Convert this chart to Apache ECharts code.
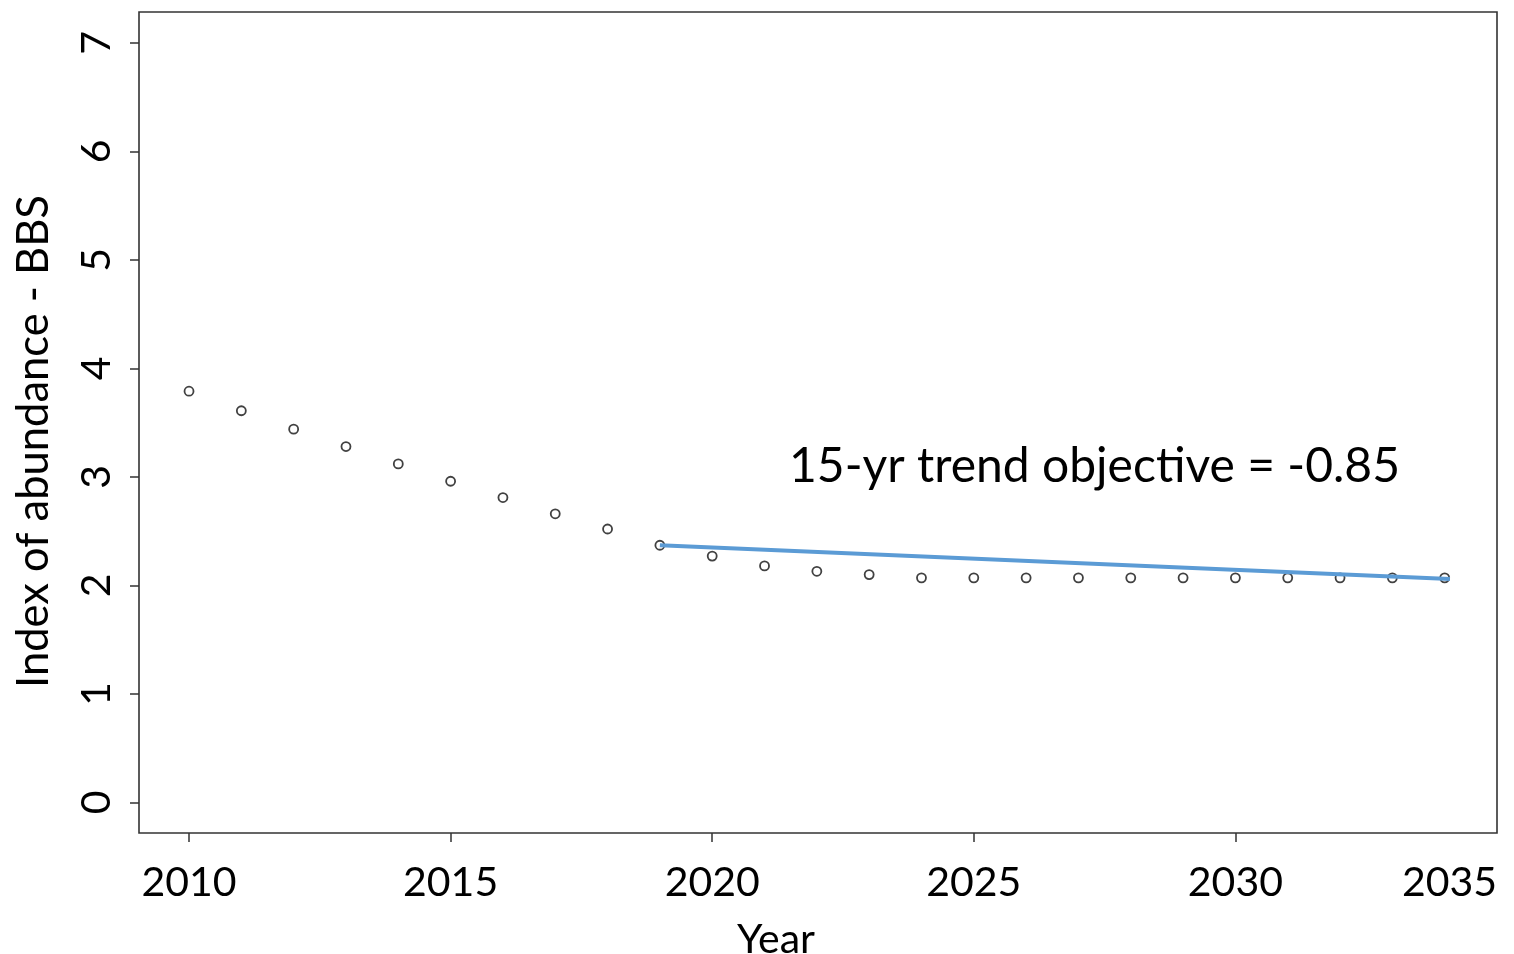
<!DOCTYPE html>
<html>
<head>
<meta charset="utf-8">
<script src="https://cdn.jsdelivr.net/npm/echarts@6/dist/echarts.min.js"></script>
<style>
  html, body { margin: 0; padding: 0; background: #fff; }
  #chart { width: 1514px; height: 954px; }
</style>
</head>
<body>
<div id="chart"></div>
<script>
// ---- data ----
const years = [2010, 2011, 2012, 2013, 2014, 2015, 2016, 2017, 2018, 2019, 2020, 2021,
  2022, 2023, 2024, 2025, 2026, 2027, 2028, 2029, 2030, 2031, 2032, 2033, 2034];
const abundance = [3.79, 3.61, 3.44, 3.28, 3.12, 2.96, 2.81, 2.66, 2.52, 2.37, 2.27, 2.18,
  2.13, 2.10, 2.07, 2.07, 2.07, 2.07, 2.07, 2.07, 2.07, 2.07, 2.07, 2.07, 2.07];
const trendYears = [2019, 2034.1];
const trendValues = [2.37, 2.06];
const xTickLabels = [2010, 2015, 2020, 2025, 2030, 2035];
const xTickMarks = [2010, 2015, 2020, 2025, 2030];
const yTickLabels = [0, 1, 2, 3, 4, 5, 6, 7];
const annotationText = '15-yr trend objective = -0.85';
const xTitle = 'Year';
const yTitle = 'Index of abundance - BBS';

const FONT = 'Lato';
const chart = echarts.init(document.getElementById('chart'), null, { renderer: 'canvas' });

const option = {
  animation: false,
  backgroundColor: '#fff',
  grid: {
    left: 139, right: 17, top: 12, bottom: 121,
    containLabel: false,
    outerBoundsMode: 'none',
    show: true, borderColor: '#333', borderWidth: 1.6, backgroundColor: 'transparent'
  },
  xAxis: {
    type: 'value',
    min: 2009.044,
    max: 2035,
    splitLine: { show: false },
    axisLine: { show: false, onZero: false },
    axisTick: { show: true, length: 9, customValues: xTickMarks, lineStyle: { color: '#333', width: 1.5 } },
    axisLabel: {
      customValues: xTickLabels,
      margin: 29,
      fontFamily: FONT, fontSize: 41, color: '#000',
      alignMaxLabel: 'right',
      formatter: v => String(v)
    },
    name: xTitle,
    nameLocation: 'middle',
    nameGap: 86,
    nameTextStyle: { fontFamily: FONT, fontSize: 41, color: '#000', padding: [0, 84, 0, 0] }
  },
  yAxis: {
    type: 'value',
    min: -0.282,
    max: 7.285,
    splitLine: { show: false },
    axisLine: { show: false, onZero: false },
    axisTick: { show: true, length: 9, customValues: yTickLabels, lineStyle: { color: '#333', width: 1.5 } },
    axisLabel: {
      customValues: yTickLabels,
      rotate: 90,
      margin: 22,
      fontFamily: FONT, fontSize: 41, color: '#000',
      formatter: v => String(v)
    },
    name: yTitle,
    nameLocation: 'middle',
    nameGap: 83,
    nameRotate: 90,
    nameTextStyle: { fontFamily: FONT, fontSize: 43.5, color: '#000', padding: [0, 38, 0, 0] }
  },
  series: [
    {
      type: 'scatter',
      data: years.map((y, i) => [y, abundance[i]]),
      symbol: 'circle',
      symbolSize: 9,
      itemStyle: { color: '#fff', borderColor: '#111', borderWidth: 1.8 },
      z: 2
    },
    {
      type: 'line',
      data: trendYears.map((y, i) => [y, trendValues[i]]),
      showSymbol: false,
      symbol: 'none',
      lineStyle: { color: '#5b9bd5', width: 4 },
      z: 3
    }
  ],
  graphic: [
    {
      type: 'text',
      left: 789,
      top: 443,
      style: { text: annotationText, fontFamily: FONT, fontSize: 48, fill: '#000' }
    }
  ]
};
chart.setOption(option);
</script>
</body>
</html>
